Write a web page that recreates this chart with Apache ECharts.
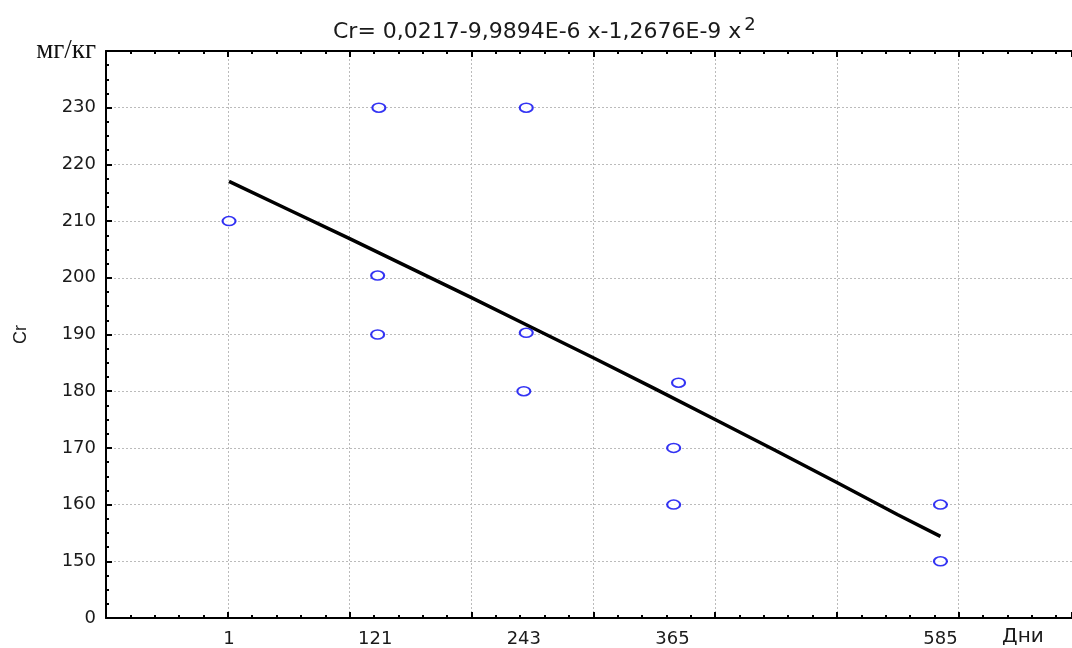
<!DOCTYPE html>
<html>
<head>
<meta charset="utf-8">
<script src="https://cdn.jsdelivr.net/npm/echarts@6/dist/echarts.min.js"></script>
<style>
html,body{margin:0;padding:0;background:#fff;}
#c{width:1072px;height:648px;}
</style>
</head>
<body>
<div id="c"></div>
<script>
// Observed points (days, Cr mg/kg)
const pointDays = [1, 124, 123, 123, 245, 245, 243, 370, 366, 366, 585, 585];
const pointCr   = [210, 230, 200.4, 190, 230, 190.3, 180, 181.5, 170, 160, 160, 150];
// Fitted curve
const fitDays = [1, 50, 100, 150, 200, 250, 300, 350, 400, 450, 500, 550, 585];
const fitCr   = [217.0, 212.0, 206.9, 201.7, 196.5, 191.2, 185.9, 180.5, 175.0, 169.5, 163.9, 158.2, 154.4];
// Labelled x positions
const xLabelDays = [1, 121, 243, 365, 585];
const titleMain = 'Cr= 0,0217-9,9894E-6 x-1,2676E-9 x';
const titleSup = '2';

const chart = echarts.init(document.getElementById('c'), null, {renderer: 'canvas'});
const tickFont = {fontFamily: 'DejaVu Sans', fontSize: 18, color: '#1a1a1a'};
const axisLineStyle = {color: '#000', width: 2};
const split = {show: true, lineStyle: {color: '#bbbbbb', type: [2, 2], width: 1}};

chart.setOption({
  animation: false,
  backgroundColor: '#fff',
  title: {
    text: '{a|' + titleMain + '}{s|' + titleSup + '}',
    left: 328, top: 11,
    textStyle: {
      fontWeight: 'normal',
      rich: {
        a: {fontFamily: 'DejaVu Sans', fontSize: 22, fontWeight: 'normal', color: '#1a1a1a'},
        s: {fontFamily: 'DejaVu Sans', fontSize: 18, fontWeight: 'normal', color: '#1a1a1a', padding: [0, 0, 14, 3]}
      }
    }
  },
  grid: {left: 106, right: 0, top: 51, bottom: 30, containLabel: false, outerBoundsMode: 'none'},
  xAxis: [{
    type: 'value', position: 'bottom', min: -100, max: 693, interval: 100,
    axisLine: {show: true, onZero: false, lineStyle: axisLineStyle},
    axisTick: {show: true, inside: true, length: 6, lineStyle: {color: '#000', width: 2}},
    minorTick: {show: true, splitNumber: 5, length: 3, lineStyle: {color: '#000', width: 2}},
    axisLabel: Object.assign({customValues: xLabelDays, margin: 12}, tickFont),
    splitLine: split
  }, {
    type: 'value', position: 'top', min: -100, max: 693, interval: 100,
    axisLine: {show: true, onZero: false, lineStyle: axisLineStyle},
    axisTick: {show: true, inside: true, length: 6, lineStyle: {color: '#000', width: 2}},
    minorTick: {show: true, splitNumber: 5, length: 3, lineStyle: {color: '#000', width: 2}},
    axisLabel: {show: false},
    splitLine: {show: false}
  }],
  yAxis: [{
    type: 'value', min: 140, max: 240, interval: 10,
    name: 'Cr', nameLocation: 'middle', nameGap: 76, nameRotate: 90, nameMoveOverlap: false,
    nameTextStyle: {fontFamily: 'Liberation Sans', fontSize: 18, color: '#1a1a1a'},
    axisLine: {show: true, onZero: false, lineStyle: axisLineStyle},
    axisTick: {show: true, inside: true, length: 6, lineStyle: {color: '#000', width: 2}},
    minorTick: {show: true, splitNumber: 4, length: 3, lineStyle: {color: '#000', width: 2}},
    axisLabel: Object.assign({
      margin: 10,
      formatter: function (v) {
        if (v === 140) return '0';
        if (v === 240) return '{u|мг/кг}';
        return String(v);
      },
      rich: {u: {fontFamily: 'Liberation Serif', fontSize: 27, color: '#111'}}
    }, tickFont),
    splitLine: split
  }],
  graphic: [{
    type: 'text', left: 1002, top: 627,
    style: {text: 'Дни', font: '20px "DejaVu Sans"', fill: '#1a1a1a'}
  }],
  series: [{
    type: 'line',
    data: fitDays.map((d, i) => [d, fitCr[i]]),
    showSymbol: false, symbol: 'none',
    lineStyle: {color: '#000', width: 3.5},
    z: 2
  }, {
    type: 'scatter',
    data: pointDays.map((d, i) => [d, pointCr[i]]),
    symbol: 'circle', symbolSize: [13, 9],
    itemStyle: {color: '#fff', borderColor: '#0000f0', borderWidth: 1.8},
    z: 3
  }]
});
</script>
</body>
</html>
